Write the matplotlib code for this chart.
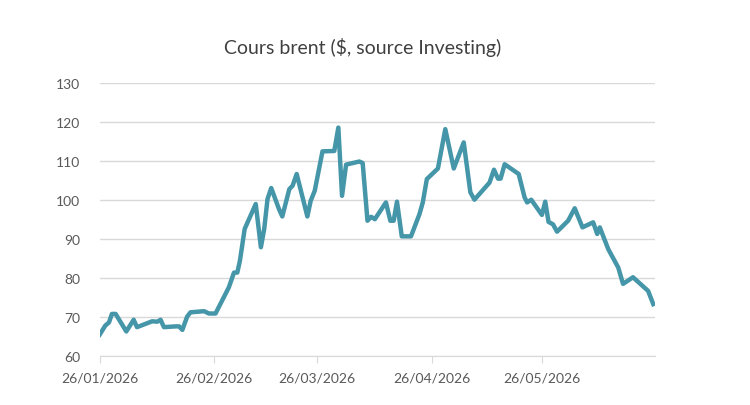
import pandas as pd
import matplotlib.pyplot as plt
import matplotlib.dates as mdates

plt.rcParams['font.family'] = ['Lato', 'DejaVu Sans']

# days after 26/01/2026
days = [0, 1.5, 2.5, 3.3, 4.3, 7.2, 9.2, 10.1, 14.2, 15.6, 16.5, 17.4, 20.6, 21.5,
        22.4, 23.7, 24.6, 28.3, 29.6, 31.4, 35, 36.4, 37.3, 38, 39.3, 42.3, 43.7,
        44.6, 45.5, 46.5, 48.6, 49.5, 51.4, 52.3, 53.4, 56.3, 57.2, 58.3, 60.4,
        63.6, 64.7, 65.7, 66.8, 70.4, 71.3, 72.6, 73.6, 74.6, 77.6, 78.8, 79.7,
        80.6, 81.9, 84.4, 86.7, 87.6, 88.7, 91.7, 93.7, 96, 98.7, 100.5, 101.6,
        105.7, 106.9, 108, 108.7, 109.8, 113.6, 115.2, 115.9, 117, 119.9, 120.8,
        121.7, 122.9, 124, 127, 128.8, 130.9, 133.8, 134.9, 135.6, 137.9, 140.6,
        141.9, 144.6, 148.7, 150.1]
brent = [65.5, 67.8, 68.6, 70.8, 70.8, 66.3, 69.3, 67.4, 68.9, 68.8, 69.3, 67.4, 67.6, 67.6,
         66.7, 70.1, 71.2, 71.5, 70.9, 70.9, 77.6, 81.4, 81.4, 84.4, 92.6, 99.0, 87.9,
         92.6, 100.3, 103.1, 97.7, 95.8, 102.8, 103.7, 106.7, 95.8, 99.8, 102.4, 112.5,
         112.6, 118.6, 101.1, 109.1, 109.9, 109.5, 94.7, 95.7, 95.1, 99.4, 94.7, 94.7,
         99.6, 90.7, 90.7, 96.4, 99.4, 105.4, 108.1, 118.2, 108.1, 114.8, 102.0, 100.1,
         104.5, 107.8, 105.5, 105.5, 109.2, 106.7, 100.7, 99.4, 100.1, 96.2, 99.6,
         94.4, 93.8, 91.9, 94.7, 97.9, 93.0, 94.3, 91.3, 93.0, 87.4, 82.7,
         78.5, 80.2, 76.7, 73.3]
tick_dates = ["26/01/2026", "26/02/2026", "26/03/2026", "26/04/2026", "26/05/2026"]

start = pd.Timestamp("2026-01-26")
dates = start + pd.to_timedelta(days, unit="D")
ticks = pd.to_datetime(tick_dates, format="%d/%m/%Y")

fig = plt.figure(figsize=(7.5, 4.06), dpi=100)
ax = fig.add_axes([0.133, 0.1207, 0.74, 0.672])

ax.plot(dates, brent, color="#4596a8", lw=3.2, solid_joinstyle="round", zorder=3)

ax.set_ylim(60, 130)
ax.set_yticks(range(60, 131, 10))
ax.set_xlim(start, start + pd.Timedelta(days=150.5))
ax.set_xticks(ticks)
ax.xaxis.set_major_formatter(mdates.DateFormatter("%d/%m/%Y"))

ax.grid(axis="y", color="#d9d9d9", lw=1)
for side in ["top", "right", "left"]:
    ax.spines[side].set_visible(False)
ax.spines["bottom"].set_color("#d9d9d9")
ax.tick_params(axis="y", length=0, pad=14, labelsize=10, labelcolor="#595959")
ax.tick_params(axis="x", length=5, color="#d9d9d9", pad=6, labelsize=10, labelcolor="#595959")

fig.text(0.483, 0.883, "Cours brent ($, source Investing)", ha="center", va="center",
         fontsize=14, color="#404040")

fig.savefig("out.png", dpi=100)
